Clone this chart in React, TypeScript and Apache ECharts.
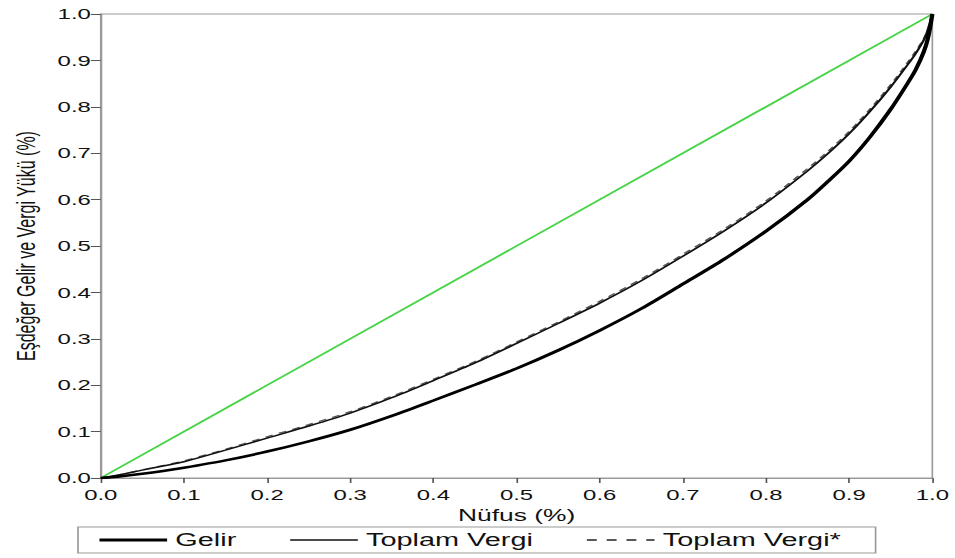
import React, { useEffect, useRef } from "react";
import * as echarts from "echarts";

const populationShare = [0, 0.02, 0.05, 0.075, 0.1, 0.15, 0.2, 0.25, 0.3, 0.35, 0.4, 0.45, 0.5, 0.55, 0.6, 0.65, 0.7, 0.75, 0.8, 0.85, 0.875, 0.9, 0.925, 0.95, 0.97, 0.98, 0.99, 0.995, 1.0];
const gelir = [0, 0.003, 0.009, 0.015, 0.022, 0.038, 0.057, 0.079, 0.104, 0.134, 0.167, 0.201, 0.236, 0.275, 0.318, 0.365, 0.418, 0.472, 0.532, 0.6, 0.64, 0.683, 0.735, 0.795, 0.85, 0.88, 0.92, 0.95, 1.0];
const toplamVergi = [0, 0.006, 0.017, 0.026, 0.035, 0.06, 0.086, 0.112, 0.14, 0.173, 0.21, 0.248, 0.29, 0.333, 0.377, 0.425, 0.478, 0.533, 0.593, 0.662, 0.7, 0.742, 0.79, 0.843, 0.89, 0.915, 0.945, 0.968, 1.0];
const toplamVergiStar = [0, 0.006, 0.018, 0.027, 0.037, 0.062, 0.089, 0.115, 0.143, 0.176, 0.213, 0.251, 0.293, 0.336, 0.381, 0.429, 0.482, 0.537, 0.597, 0.667, 0.705, 0.747, 0.795, 0.848, 0.895, 0.92, 0.948, 0.97, 1.0];
const equalityX = [0, 1];
const equalityY = [0, 1];
const legendNames = ["Gelir", "Toplam Vergi", "Toplam Vergi*"];

const S = 1.65;
const W = 955 / S;
const H = 558;

const pairs = (xs: number[], ys: number[]) => xs.map((x, i) => [x, ys[i]]);

export default function App() {
  const ref = useRef<HTMLDivElement>(null);
  useEffect(() => {
    if (!ref.current) return;
    const chart = echarts.init(ref.current, undefined, { renderer: "svg" });
    const font = "'Liberation Sans', Arial, sans-serif";
    const axisGray = "#9a9a9a";
    chart.setOption({
      animation: false,
      backgroundColor: "#fff",
      textStyle: { fontFamily: font, color: "#111" },
      grid: {
        left: 100 / S,
        right: W - 932 / S,
        top: 14,
        bottom: H - 478,
        show: true,
        borderColor: axisGray,
        borderWidth: 1,
      },
      xAxis: {
        type: "value",
        min: 0,
        max: 1,
        interval: 0.1,
        name: "Nüfus (%)",
        nameLocation: "middle",
        nameGap: 29,
        nameTextStyle: { fontSize: 16, color: "#111", fontFamily: font },
        axisLine: { show: true, lineStyle: { color: axisGray, width: 1 } },
        axisTick: { show: true, length: 5, lineStyle: { color: "#555" } },
        axisLabel: { fontSize: 14.5, color: "#111", margin: 9, formatter: (v: number) => v.toFixed(1) },
        splitLine: { show: false },
      },
      yAxis: {
        type: "value",
        min: 0,
        max: 1,
        interval: 0.1,
        name: "Eşdeğer Gelir ve Vergi Yükü (%)",
        nameLocation: "middle",
        nameGap: 37,
        nameRotate: 90,
        nameTextStyle: { fontSize: 16, color: "#111", fontFamily: font },
        axisLine: { show: true, lineStyle: { color: axisGray, width: 1 } },
        axisTick: { show: true, length: 6, lineStyle: { color: "#555" } },
        axisLabel: { fontSize: 14.5, color: "#111", margin: 6, formatter: (v: number) => v.toFixed(1) },
        splitLine: { show: false },
      },
      legend: {
        left: 78 / S,
        top: 527,
        orient: "horizontal",
        borderColor: "#999",
        borderWidth: 1,
        padding: [4, 21, 4, 11.5],
        itemGap: 32,
        itemWidth: 41,
        itemHeight: 14,
        textStyle: { fontSize: 17.5, color: "#111", fontFamily: font },
        data: [
          { name: legendNames[0], itemStyle: { opacity: 0 }, lineStyle: { width: 3, color: "#000", type: "solid" } },
          { name: legendNames[1], itemStyle: { opacity: 0 }, lineStyle: { width: 1.3, color: "#111", type: "solid" } },
          { name: legendNames[2], itemStyle: { opacity: 0 }, lineStyle: { width: 1.3, color: "#222", type: [6, 6] } },
        ],
      },
      series: [
        {
          name: "Eşitlik",
          type: "line",
          data: pairs(equalityX, equalityY),
          symbol: "none",
          itemStyle: { color: "#46d446" },
          lineStyle: { color: "#46d446", width: 1.6 },
          z: 1,
        },
        {
          name: legendNames[2],
          type: "line",
          data: pairs(populationShare, toplamVergiStar),
          symbol: "none",
          smooth: 0.3,
          itemStyle: { color: "#555" },
          lineStyle: { color: "#555", width: 1.2, type: [5, 4] },
          z: 2,
        },
        {
          name: legendNames[1],
          type: "line",
          data: pairs(populationShare, toplamVergi),
          symbol: "none",
          smooth: 0.3,
          itemStyle: { color: "#111" },
          lineStyle: { color: "#111", width: 1.5 },
          z: 3,
        },
        {
          name: legendNames[0],
          type: "line",
          data: pairs(populationShare, gelir),
          symbol: "none",
          smooth: 0.3,
          itemStyle: { color: "#000" },
          lineStyle: { color: "#000", width: 2.6 },
          z: 4,
        },
      ],
    });
    return () => chart.dispose();
  }, []);
  return (
    <div
      ref={ref}
      style={{
        position: "absolute",
        left: 0,
        top: 0,
        width: W,
        height: H,
        transform: `scaleX(${S})`,
        transformOrigin: "0 0",
      }}
    />
  );
}
